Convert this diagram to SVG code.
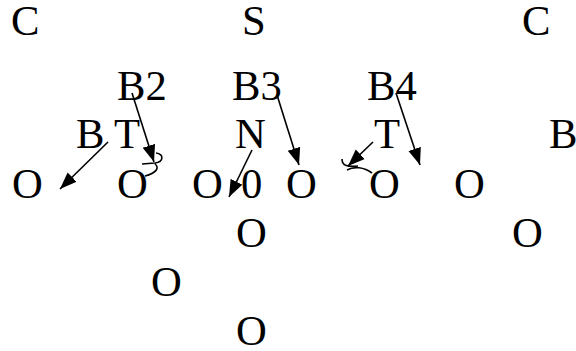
<svg xmlns="http://www.w3.org/2000/svg" width="576" height="351" viewBox="0 0 576 351">
<defs>
<style>
text{font-family:"Liberation Serif","Times New Roman",serif;font-size:42.67px;fill:#000}
.c line{stroke:#000;stroke-width:1.6;marker-end:url(#ah)}
.c path{fill:none;stroke:#000;stroke-width:1.6}
</style>
<marker id="ah" markerUnits="userSpaceOnUse" markerWidth="18" markerHeight="14" refX="17" refY="6.5" orient="auto" viewBox="0 0 18 13">
<path d="M0,0 L17,6.5 L0,13 z" fill="#000"/>
</marker>
</defs>
<g id="row1">
<text x="11" y="35">C</text>
<text x="242" y="35">S</text>
<text x="522" y="35">C</text>
</g>
<g id="row2">
<text x="117" y="100">B2</text>
<text x="232" y="100">B3</text>
<text x="367" y="100">B4</text>
</g>
<g id="row3">
<text x="76" y="148">B</text>
<text x="114" y="148">T</text>
<text x="235" y="148">N</text>
<text x="374" y="148">T</text>
<text x="549" y="148">B</text>
</g>
<g id="row4">
<text x="12" y="198">O</text>
<text x="117" y="198">O</text>
<text x="192" y="198">O</text>
<text x="241" y="198">0</text>
<text x="286" y="198">O</text>
<text x="369" y="198">O</text>
<text x="454" y="198">O</text>
</g>
<g id="row5">
<text x="236" y="247">O</text>
<text x="512" y="247">O</text>
</g>
<g id="row6">
<text x="151" y="296">O</text>
</g>
<g id="row7">
<text x="236" y="345">O</text>
</g>
<g id="connectors" class="c">
<line x1="108" y1="142" x2="60" y2="189"/>
<line x1="132" y1="93" x2="154" y2="162"/>
<line x1="252" y1="150" x2="229" y2="197"/>
<line x1="277" y1="95" x2="299" y2="165"/>
<line x1="373" y1="142" x2="348" y2="166"/>
<line x1="396" y1="93" x2="420" y2="165"/>
<path d="M156 153 C164 154,164 162,155 163 L142 164 M155 164 C160 168,156 173,145 176"/>
<path d="M342 159 C342 166,348 167,358 166 M347 170 C354 166,364 167,372 173"/>
</g>
</svg>
